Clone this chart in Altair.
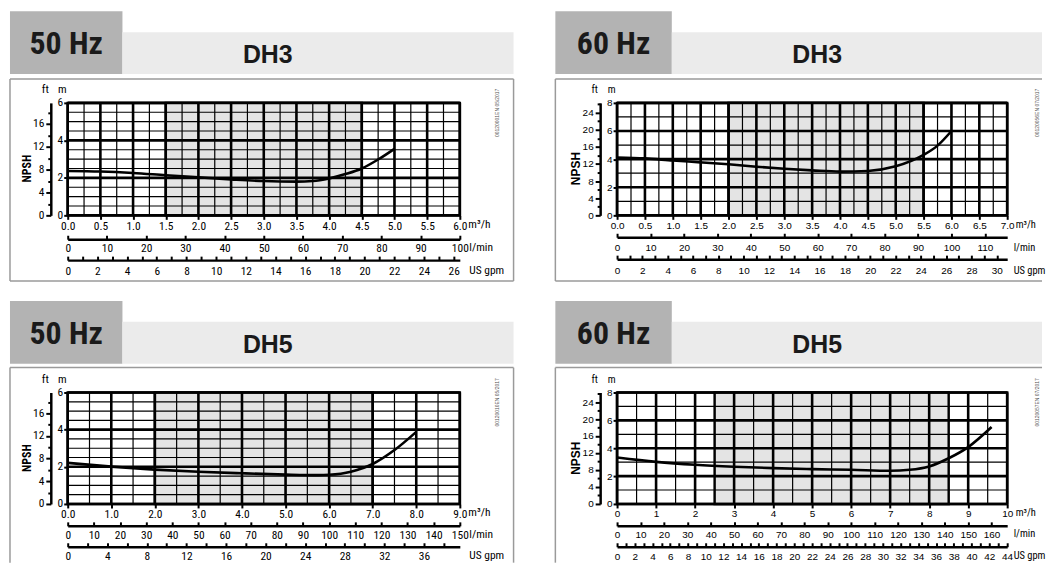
import altair as alt
import pandas as pd

# ---------------- unit conversions ----------------
FT_PER_M = 3.28084
LMIN_PER_M3H = 1000.0 / 60.0
GPM_PER_M3H = 4.402868

# ---------------- NPSH curves ----------------
dh3_50_q = [0.0, 0.5, 1.0, 1.5, 2.0, 2.5, 3.0, 3.5, 3.75, 4.0, 4.25, 4.5, 4.75, 5.0]
dh3_50_h = [2.37, 2.34, 2.26, 2.14, 2.03, 1.92, 1.83, 1.80, 1.83, 1.97, 2.20, 2.50, 2.98, 3.55]

dh3_60_q = [0.0, 0.5, 1.0, 1.5, 2.0, 2.5, 3.0, 3.5, 4.0, 4.5, 5.0, 5.5, 5.75, 6.0]
dh3_60_h = [4.12, 4.05, 3.90, 3.77, 3.63, 3.46, 3.32, 3.20, 3.11, 3.16, 3.49, 4.30, 4.96, 6.00]

dh5_50_q = [0.0, 1.0, 2.0, 3.0, 4.0, 5.0, 5.75, 6.0, 6.5, 7.0, 7.5, 8.0]
dh5_50_h = [2.21, 2.01, 1.85, 1.73, 1.65, 1.58, 1.55, 1.57, 1.74, 2.15, 2.90, 3.88]

dh5_60_q = [0.0, 1.0, 2.0, 3.0, 4.0, 5.0, 6.0, 7.0, 7.5, 8.0, 8.5, 9.0, 9.6]
dh5_60_h = [3.33, 3.02, 2.81, 2.67, 2.57, 2.50, 2.45, 2.38, 2.45, 2.69, 3.28, 4.08, 5.52]

# ---------------- shaded operating ranges (m3/h) ----------------
band_dh3_50 = [1.5, 4.5]
band_dh3_60 = [2.0, 5.5]
band_dh5_50 = [2.0, 7.0]
band_dh5_60 = [2.5, 8.5]

# ---------------- document codes ----------------
codes = ["00120001EN 05/2017", "00120056EN 07/2017", "00120010EN 05/2017", "00120057EN 07/2017"]

COND = "Roboto Condensed, Liberation Sans Narrow, Liberation Sans, Arial, sans-serif"
SANS = "Liberation Sans, Arial, Helvetica, sans-serif"
DARK = "#b3b3b3"
LIGHT = "#ebebeb"
BAND = "#e4e4e4"
FRAME = "#9a9a9a"


def steps(a, b, s):
    n = int(round((b - a) / s))
    return [round(a + i * s, 6) for i in range(n + 1)]


ONE = pd.DataFrame({"k": [0]})


def box(x1, x2, y1, y2, color):
    return alt.Chart(ONE).mark_rect(color=color).encode(
        x=alt.value(x1), x2=alt.value(x2), y=alt.value(y1), y2=alt.value(y2))


def seg(x1, y1, x2, y2):
    return alt.Chart(ONE).mark_rule(color=FRAME, strokeWidth=1.5).encode(
        x=alt.value(x1), x2=alt.value(x2), y=alt.value(y1), y2=alt.value(y2))


def label(x, y, text, **kw):
    return alt.Chart(ONE).mark_text(**kw).encode(
        x=alt.value(x), y=alt.value(y), text=alt.value(text))


def panel(c):
    W, H = c["W"], c["H"]
    f, fs = c["font"], c["fs"]
    common = dict(labelFont=f, labelFontSize=fs, labelColor="black", tickColor="black",
                  domainColor="black", titleFont=COND, titleFontSize=c["tfs"],
                  titleFontWeight="normal", titleColor="black", labelFlush=False,
                  labelOverlap=False, grid=False)
    xaxis = alt.Axis(orient="bottom", values=c["q_ticks"], format=c["q_fmt"], domain=False,
                     tickSize=4, tickWidth=2, labelPadding=1,
                     title="m³/h", titleAngle=0, titleX=W + c["txq"], titleY=9,
                     titleAlign="left", titleBaseline="middle", **common)
    yaxis = alt.Axis(orient="left", values=c["y_ticks"], domain=False, tickSize=4, tickWidth=2,
                     labelPadding=1, title="m", titleAngle=0, titleX=-6, titleY=-13,
                     titleAlign="center", titleBaseline="middle", **common)
    qscale = alt.Scale(domain=[0, c["qmax"]], nice=False)
    hscale = alt.Scale(domain=[0, c["hmax"]], nice=False)
    X = alt.X("q:Q", scale=qscale, axis=xaxis)
    Y = alt.Y("h:Q", scale=hscale, axis=yaxis)

    # ---- decorations: header and frame ----
    L, R, T, B = c["frame"]
    deco = [
        box(L, 55, -92, -29, DARK),
        box(55, c["bar_r"], -71, -29, LIGHT),
        label((L + 55) / 2, -49, c["hz"], font=COND, fontSize=32, fontWeight="bold",
              align="center", baseline="alphabetic", color="#1a1a1a"),
        label(201, -40, c["model"], font=SANS, fontSize=25, fontWeight="bold",
              align="center", baseline="alphabetic", color="#1a1a1a"),
        seg(L, T, R, T),
        seg(L, T, L, B),
        label(-41, 66, "NPSH", font=c["nfont"], fontSize=12, fontWeight="bold", angle=270,
              align="center", baseline="middle", color="black"),
        label(c["code_x"], 10, c["code"], font=SANS, fontSize=5, angle=270,
              align="center", baseline="middle", color="#555555"),
    ]
    if c["right"]:
        deco.append(seg(R, T, R, B))
    if c["bottom"]:
        deco.append(seg(L, B, R, B))

    band = alt.Chart(pd.DataFrame({"q": [c["band"][0]], "q_end": [c["band"][1]]})).mark_rect(
        fill=BAND, stroke="black", strokeWidth=2.4).encode(x=X, x2="q_end")
    vmin = alt.Chart(pd.DataFrame({"q": c["vminor"]})).mark_rule(
        color="black", strokeWidth=1.2).encode(x=X)
    vmaj = alt.Chart(pd.DataFrame({"q": c["vmajor"]})).mark_rule(
        color="black", strokeWidth=2.6).encode(x=X)
    hmin = alt.Chart(pd.DataFrame({"h": c["hminor"]})).mark_rule(
        color="black", strokeWidth=1.2).encode(y=Y)
    hmaj = alt.Chart(pd.DataFrame({"h": c["hmajor"]})).mark_rule(
        color="black", strokeWidth=2.6).encode(y=Y)
    curve = alt.Chart(pd.DataFrame({"q": c["q"], "h": c["h"]})).mark_line(
        color="black", strokeWidth=2.6, interpolate="monotone").encode(x=X, y=Y)

    inner = alt.layer(*deco, band, vmin, hmin, vmaj, hmaj, curve)

    # ---- secondary axes: each layer has both channels ----
    ft_ticks = c["ft_ticks"]
    ft_df = pd.DataFrame({"ft": ft_ticks, "q": [0.0] * len(ft_ticks)})
    ftl = alt.Chart(ft_df).mark_point(opacity=0).encode(
        x=alt.X("q:Q", scale=qscale, axis=None),
        y=alt.Y("ft:Q", scale=alt.Scale(domain=[0, c["hmax"] * FT_PER_M], nice=False),
                axis=alt.Axis(orient="left", offset=17, values=ft_ticks,
                              labelExpr="datum.value % 4 === 0 ? datum.label : ''",
                              tickSize={"condition": {"test": "datum.value % 4 === 0", "value": 5}, "value": 3},
                              tickWidth=2, domainWidth=2.5, labelPadding=2,
                              title="ft", titleAngle=0, titleX=-6, titleY=-13,
                              titleAlign="center", titleBaseline="middle", **common)))

    def sub_axis(field, ticks, dmax, off, d_center, every, title):
        pad = 4 + d_center - 0.43 * fs
        df = pd.DataFrame({field: ticks, "h": [0.0] * len(ticks)})
        return alt.Chart(df).mark_point(opacity=0).encode(
            x=alt.X(f"{field}:Q", scale=alt.Scale(domain=[0, dmax], nice=False),
                    axis=alt.Axis(orient="bottom", offset=off, values=ticks,
                                  labelExpr=f"datum.value % {every} === 0 ? datum.label : ''",
                                  tickSize=alt.ExprRef(expr="-4"), tickWidth=2, domainWidth=2.5,
                                  labelPadding=pad, title=title, titleAngle=0, titleX=W + c["txs"],
                                  titleY=d_center, titleAlign="left", titleBaseline="middle",
                                  **common)),
            y=alt.Y("h:Q", scale=hscale, axis=None))

    lml = sub_axis("l", c["l_ticks"], c["qmax"] * LMIN_PER_M3H, c["l_off"], c["l_d"], 10, "l/min")
    gpl = sub_axis("g", c["g_ticks"], c["qmax"] * GPM_PER_M3H, c["g_off"], c["g_d"], c["g_every"], "US gpm")

    return alt.layer(inner, ftl, lml, gpl).resolve_scale(
        x="independent", y="independent").properties(width=W, height=H)


cfgs = [
    dict(W=394, H=113, font=COND, nfont=COND, fs=11.5, tfs=11.5, txq=8, txs=9, hz="50 Hz", model="DH3",
         qmax=6, hmax=6, band=band_dh3_50, q=dh3_50_q, h=dh3_50_h,
         vminor=steps(0, 6, 0.25), vmajor=steps(0, 6, 0.5), hminor=steps(0, 6, 0.5), hmajor=steps(0, 6, 2),
         q_ticks=steps(0, 6, 0.5), q_fmt=".1f", y_ticks=steps(0, 6, 2), ft_ticks=steps(0, 18, 2),
         l_ticks=steps(0, 100, 10), g_ticks=steps(0, 26, 1), g_every=2,
         l_off=24, g_off=45, l_d=8, g_d=10,
         frame=(-58, 448, -24, 179), bar_r=448, right=True, bottom=True, code=codes[0], code_x=431),
    dict(W=392, H=113, font=SANS, nfont=SANS, fs=10, tfs=10.5, txq=8, txs=6, hz="60 Hz", model="DH3",
         qmax=7, hmax=8, band=band_dh3_60, q=dh3_60_q, h=dh3_60_h,
         vminor=steps(0, 7, 0.25), vmajor=steps(0, 7, 0.5), hminor=steps(0, 8, 1), hmajor=steps(0, 8, 2),
         q_ticks=steps(0, 7, 0.5), q_fmt=".1f", y_ticks=steps(0, 8, 2), ft_ticks=steps(0, 26, 2),
         l_ticks=steps(0, 110, 10), g_ticks=steps(0, 30, 1), g_every=2,
         l_off=22, g_off=44, l_d=10, g_d=11,
         frame=(-62, 427, -24, 179), bar_r=427, right=False, bottom=True, code=codes[1], code_x=422),
    dict(W=394, H=112, font=COND, nfont=COND, fs=11.5, tfs=11.5, txq=8, txs=9, hz="50 Hz", model="DH5",
         qmax=9, hmax=6, band=band_dh5_50, q=dh5_50_q, h=dh5_50_h,
         vminor=steps(0, 9, 0.5), vmajor=steps(0, 9, 1), hminor=steps(0, 6, 0.5), hmajor=steps(0, 6, 2),
         q_ticks=steps(0, 9, 1), q_fmt=".1f", y_ticks=steps(0, 6, 2), ft_ticks=steps(0, 18, 2),
         l_ticks=steps(0, 150, 10), g_ticks=steps(0, 38, 2), g_every=4,
         l_off=22, g_off=43, l_d=9, g_d=9,
         frame=(-58, 448, -25, 171), bar_r=448, right=True, bottom=False, code=codes[2], code_x=431),
    dict(W=392, H=112, font=SANS, nfont=SANS, fs=10, tfs=10.5, txq=8, txs=6, hz="60 Hz", model="DH5",
         qmax=10, hmax=8, band=band_dh5_60, q=dh5_60_q, h=dh5_60_h,
         vminor=steps(0, 10, 0.5), vmajor=steps(0, 10, 1), hminor=steps(0, 8, 1), hmajor=steps(0, 8, 2),
         q_ticks=steps(0, 10, 1), q_fmt="d", y_ticks=steps(0, 8, 2), ft_ticks=steps(0, 26, 2),
         l_ticks=steps(0, 160, 10), g_ticks=steps(0, 44, 1), g_every=2,
         l_off=22, g_off=43, l_d=8, g_d=9,
         frame=(-62, 427, -25, 171), bar_r=427, right=False, bottom=False, code=codes[3], code_x=422),
]

panels = [panel(c) for c in cfgs]

chart = alt.concat(*panels, columns=2, spacing={"row": 178, "column": 158}, bounds="flush").properties(
    padding={"left": 0, "top": 0, "right": 0, "bottom": 0}, background="white"
).configure_view(stroke="black", strokeWidth=2.5)

chart.save("out.html", embed_options={"renderer": "svg", "actions": False})
